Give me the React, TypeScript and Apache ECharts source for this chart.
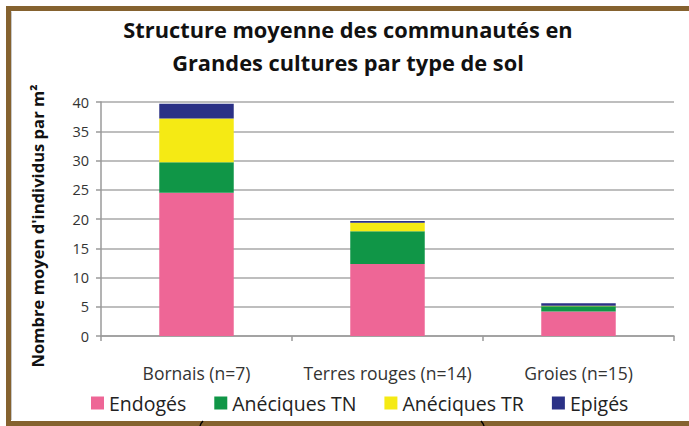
import React, { useEffect, useRef } from "react";
import * as echarts from "echarts";

const categories = ["Bornais (n=7)", "Terres rouges (n=14)", "Groies (n=15)"];
const endoges = [24.5, 12.3, 4.2];
const aneciquesTN = [5.2, 5.6, 0.9];
const aneciquesTR = [7.5, 1.45, 0.05];
const epiges = [2.5, 0.3, 0.45];
const yTicks = { min: 0, max: 40, interval: 5 };

const FONT = "Open Sans";

export default function App() {
  const ref = useRef<HTMLDivElement>(null);
  useEffect(() => {
    if (!ref.current) return;
    const chart = echarts.init(ref.current, null, { renderer: "svg" });
    const mk = (name: string, data: number[], color: string) => ({
      name,
      type: "bar",
      stack: "total",
      data,
      barWidth: "39%",
      itemStyle: { color },
    });
    chart.setOption({
      animation: false,
      backgroundColor: "#ffffff",
      title: {
        text: "Structure moyenne des communautés en\nGrandes cultures par type de sol",
        left: 343,
        textAlign: "center",
        top: 8,
        textStyle: {
          fontFamily: FONT,
          fontWeight: "bold",
          fontSize: 21.8,
          lineHeight: 33,
          color: "#111111",
        },
      },
      grid: { left: 101, right: 15, top: 102, bottom: 90, containLabel: false },
      legend: {
        left: 86,
        top: 388,
        icon: "rect",
        itemWidth: 13,
        itemHeight: 13,
        itemGap: 28,
        textStyle: { fontFamily: FONT, fontSize: 19.5, color: "#222222" },
        data: ["Endogés", "Anéciques TN", "Anéciques TR", "Epigés"],
      },
      xAxis: {
        type: "category",
        data: categories,
        axisLine: { lineStyle: { color: "#9a9a9a", width: 1.5 } },
        axisTick: { show: true, length: 5, lineStyle: { color: "#9a9a9a", width: 1.5 } },
        axisLabel: { fontFamily: FONT, fontSize: 17.5, color: "#333333", margin: 28, interval: 0, hideOverlap: false },
      },
      yAxis: {
        type: "value",
        min: yTicks.min,
        max: yTicks.max,
        interval: yTicks.interval,
        name: "Nombre moyen d'individus par m²",
        nameLocation: "middle",
        nameGap: 55,
        nameTextStyle: { fontFamily: FONT, fontWeight: "bold", fontSize: 16.6, color: "#111111", padding: [0, 14, 0, 0] },
        axisLine: { show: true, lineStyle: { color: "#9a9a9a", width: 1.5 } },
        axisTick: { show: true, length: 5, lineStyle: { color: "#9a9a9a", width: 1.5 } },
        splitLine: { lineStyle: { color: "#a8a8a8", width: 1.5 } },
        axisLabel: { fontFamily: FONT, fontSize: 14.5, color: "#333333", margin: 12 },
      },
      series: [
        mk("Endogés", endoges, "#EE6696"),
        mk("Anéciques TN", aneciquesTN, "#109647"),
        mk("Anéciques TR", aneciquesTR, "#F5EA14"),
        mk("Epigés", epiges, "#2B3186"),
      ],
      graphic: [
        {
          type: "rect",
          shape: { x: 8.5, y: 8.5, width: 700, height: 415 },
          style: { fill: "none", stroke: "#85622F", lineWidth: 5 },
          silent: true,
        },
        {
          type: "line",
          shape: { x1: 11.5, y1: 11.5, x2: 11.5, y2: 420 },
          style: { stroke: "#c8c8c8", lineWidth: 1 },
          silent: true,
        },
        {
          type: "bezierCurve",
          shape: { x1: 203, y1: 421, cpx1: 201, cpy1: 423, x2: 200, y2: 426 },
          style: { stroke: "#000000", lineWidth: 1.5, fill: "none" },
          silent: true,
        },
        {
          type: "bezierCurve",
          shape: { x1: 481, y1: 421, cpx1: 483, cpy1: 423, x2: 484, y2: 426 },
          style: { stroke: "#000000", lineWidth: 1.5, fill: "none" },
          silent: true,
        },
      ],
    });
    return () => chart.dispose();
  }, []);
  return <div ref={ref} style={{ width: 689, height: 426, position: "absolute", left: 0, top: 0 }} />;
}
